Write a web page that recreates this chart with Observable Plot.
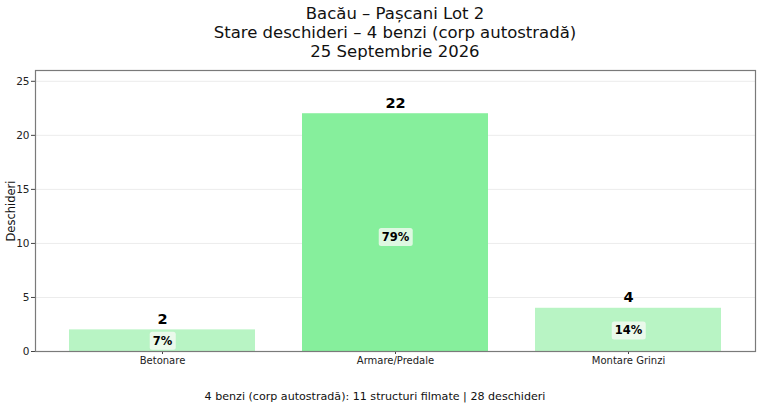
<!DOCTYPE html>
<html>
<head>
<meta charset="utf-8">
<script src="https://cdn.jsdelivr.net/npm/d3@7"></script>
<script src="https://cdn.jsdelivr.net/npm/@observablehq/plot@0.6"></script>
<style>
  body { margin: 0; background: #fff; font-family: "DejaVu Sans", sans-serif; width: 760px; }
  #title { padding: 4px 0 0 30px; width: 730px; text-align: center; font-size: 16.5px; line-height: 19px; color: #111; height: 57px; }
  #caption { width: 760px; text-align: center; font-size: 11.1px; line-height: 16px; color: #111; padding-top: 14px; padding-right: 10px; box-sizing: border-box; }
  svg { display: block; }
</style>
</head>
<body>
<div id="title">Bacău – Pașcani Lot 2<br>Stare deschideri – 4 benzi (corp autostradă)<br>25 Septembrie 2026</div>
<div id="chart"></div>
<div id="caption">4 benzi (corp autostradă): 11 structuri filmate | 28 deschideri</div>
<script>
const categories = ["Betonare", "Armare/Predale", "Montare Grinzi"];
const values = [2, 22, 4];
const colors = ["#b8f4c4", "#86ef9c", "#b8f4c4"];
const yTicks = [0, 5, 10, 15, 20, 25];
const gridTicks = [5, 10, 15, 20, 25];
const yLabel = "Deschideri";

const total = d3.sum(values);
const data = categories.map((c, i) => ({
  cat: c,
  value: values[i],
  color: colors[i],
  pct: Math.round(values[i] / total * 100) + "%"
}));

const chart = Plot.plot({
  width: 760,
  height: 314,
  marginTop: 9,
  marginBottom: 24,
  marginLeft: 35,
  marginRight: 5,
  style: { fontFamily: "DejaVu Sans, sans-serif", color: "#222", background: "#fff" },
  x: { domain: categories, paddingInner: 0.2, paddingOuter: 0.14, label: null },
  y: { domain: [0, 26], label: null },
  marks: [
    Plot.gridY(gridTicks, { stroke: "#ececec", strokeOpacity: 1 }),
    Plot.barY(data, { x: "cat", y: "value", fill: "color" }),
    Plot.axisY(yTicks, { tickSize: 4, tickPadding: 2, fontSize: 10.5, stroke: "#444", fill: "#222", label: null }),
    Plot.axisX({ tickSize: 3, tickPadding: 2, fontSize: 10, stroke: "#444", fill: "#222", label: null }),
    Plot.frame({ stroke: "#7a7a7a", strokeWidth: 1.2 }),
    Plot.text([yLabel], { frameAnchor: "left", text: d => d, rotate: -90, textAnchor: "middle", dx: -24, fontSize: 11.5, fill: "#111" }),
    Plot.text(data, { x: "cat", y: "value", text: d => String(d.value), lineAnchor: "bottom", dy: -6, fontSize: 14.5, fontWeight: "bold", fill: "#000" }),
    Plot.text(data, { x: "cat", y: d => d.value * 0.48, text: "pct", fontSize: 11.5, fontWeight: "bold", fill: "#000", className: "pctlabel" })
  ]
});

document.getElementById("chart").appendChild(chart);

// rounded white boxes behind percentage labels
document.querySelectorAll("g.pctlabel text").forEach(t => {
  const b = t.getBBox();
  const pad = 3;
  const r = document.createElementNS("http://www.w3.org/2000/svg", "rect");
  r.setAttribute("x", b.x - pad);
  r.setAttribute("y", b.y - pad + 1);
  r.setAttribute("width", b.width + 2 * pad);
  r.setAttribute("height", b.height + 2 * pad - 2);
  r.setAttribute("rx", 2.5);
  r.setAttribute("fill", "#fbfbf8");
  r.setAttribute("fill-opacity", 0.75);
  const tr = t.getAttribute("transform");
  if (tr) r.setAttribute("transform", tr);
  t.parentNode.insertBefore(r, t);
});
</script>
</body>
</html>
